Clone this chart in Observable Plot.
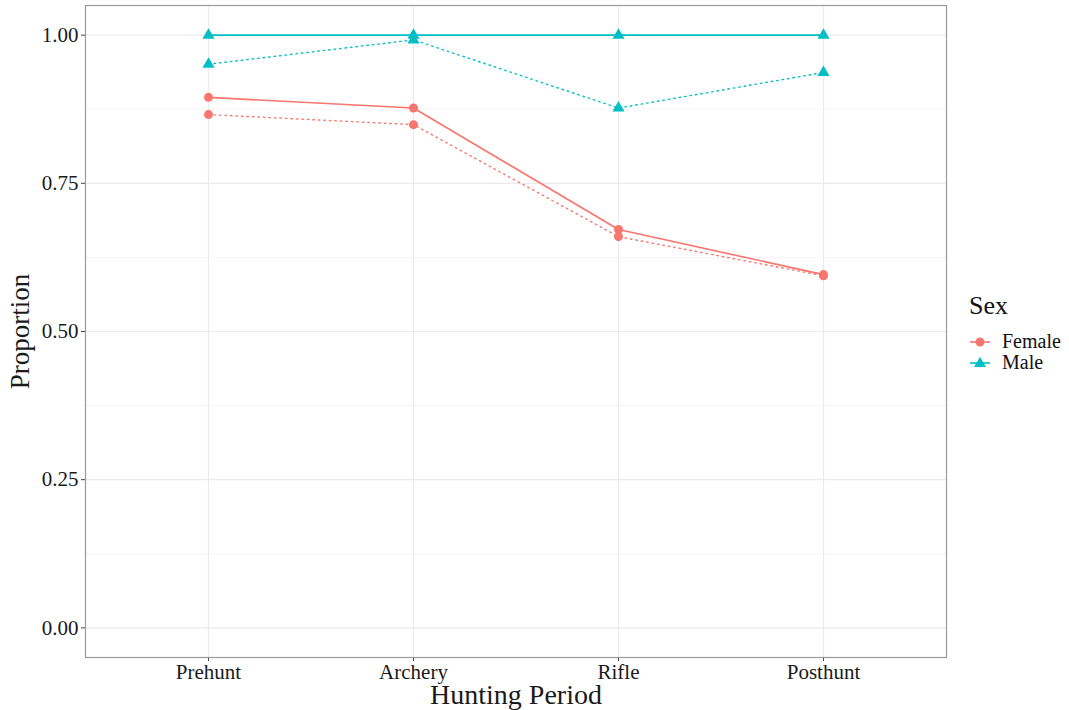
<!DOCTYPE html>
<html>
<head>
<meta charset="utf-8">
<script src="https://cdn.jsdelivr.net/npm/d3@7"></script>
<script src="https://cdn.jsdelivr.net/npm/@observablehq/plot@0.6"></script>
<style>
  html, body { margin: 0; padding: 0; background: #fff; }
  #wrap { position: relative; width: 1069px; height: 710px; font-family: "Liberation Serif", "DejaVu Serif", serif; }
  #legend { position: absolute; left: 968px; top: 291px; color: #111; }
  #legend .title { font-size: 26px; margin-bottom: 10px; margin-left: 1px; line-height: 30px; }
  #legend .row { display: flex; align-items: center; height: 21px; line-height: 21px; font-size: 20px; }
  #legend .row span { display: block; height: 21px; line-height: 21px; }
  #legend svg { margin-right: 10px; }
</style>
</head>
<body>
<div id="wrap"></div>
<script>
// ---- data ----
const periods = ["Prehunt", "Archery", "Rifle", "Posthunt"];
const sexes = ["Female", "Male"];
const colors = ["#F8766D", "#00BFC4"];
const femaleSolid = [0.895, 0.877, 0.672, 0.596];
const femaleDotted = [0.866, 0.849, 0.660, 0.594];
const maleSolid = [1.0, 1.0, 1.0, 1.0];
const maleDotted = [0.951, 0.992, 0.877, 0.937];
const yTicks = [0, 0.25, 0.5, 0.75, 1.0];
const yMinor = [0.125, 0.375, 0.625, 0.875];

function rows(sex, type, vals) {
  return periods.map((p, i) => ({period: p, sex, type, value: vals[i]}));
}
const data = [
  ...rows("Female", "solid", femaleSolid),
  ...rows("Female", "dotted", femaleDotted),
  ...rows("Male", "solid", maleSolid),
  ...rows("Male", "dotted", maleDotted)
];
const solid = data.filter(d => d.type === "solid");
const dotted = data.filter(d => d.type === "dotted");

const chart = Plot.plot({
  width: 1069,
  height: 710,
  marginLeft: 85,
  marginRight: 123,
  marginTop: 5,
  marginBottom: 53,
  style: {fontFamily: "Liberation Serif, DejaVu Serif, serif", background: "#fff", color: "#1a1a1a"},
  x: {type: "point", domain: periods, padding: 0.6},
  y: {domain: [-0.05, 1.05]},
  color: {domain: sexes, range: colors},
  symbol: {domain: sexes, range: ["circle", "triangle"]},
  marks: [
    Plot.gridY(yMinor, {stroke: "#f2f2f2", strokeOpacity: 1, strokeWidth: 0.8}),
    Plot.gridY(yTicks, {stroke: "#ebebeb", strokeOpacity: 1, strokeWidth: 1.2}),
    Plot.gridX(periods, {stroke: "#ebebeb", strokeOpacity: 1, strokeWidth: 1.2}),
    Plot.axisY(yTicks, {tickFormat: d3.format(".2f"), tickSize: 4, tickPadding: 3, fontSize: 21, stroke: "#444",
      label: "Proportion", labelAnchor: "center", labelArrow: "none", labelOffset: 76}),
    Plot.axisX(periods, {tickSize: 4, tickPadding: 3, fontSize: 21, stroke: "#444",
      label: "Hunting Period", labelAnchor: "center", labelArrow: "none", labelOffset: 46}),
    Plot.frame({stroke: "#999", strokeWidth: 1.2}),
    Plot.line(dotted, {x: "period", y: "value", z: "sex", stroke: "sex", strokeWidth: 1.4, strokeDasharray: "1.5,4", strokeLinecap: "round"}),
    Plot.line(solid, {x: "period", y: "value", z: "sex", stroke: "sex", strokeWidth: 1.6}),
    Plot.dot(data, {x: "period", y: "value", fill: "sex", symbol: "sex", r: 4.5, stroke: "none"})
  ]
});

chart.querySelectorAll("[aria-label='y-axis label'] text").forEach(t => t.setAttribute("font-size", "27"));
chart.querySelectorAll("[aria-label='x-axis label'] text").forEach(t => t.setAttribute("font-size", "28"));
document.getElementById("wrap").appendChild(chart);

// legend
const legend = document.createElement("div");
legend.id = "legend";
legend.innerHTML = `<div class="title">Sex</div>` + sexes.map((s, i) => {
  const sym = i === 0
    ? `<circle cx="12" cy="10" r="4.5" fill="${colors[i]}"/>`
    : `<path d="M12,4 L18,14 L6,14 Z" fill="${colors[i]}"/>`;
  return `<div class="row"><svg width="24" height="20"><line x1="2" x2="22" y1="10" y2="10" stroke="${colors[i]}" stroke-width="1.6"/>${sym}</svg><span>${s}</span></div>`;
}).join("");
document.getElementById("wrap").appendChild(legend);
</script>
</body>
</html>
